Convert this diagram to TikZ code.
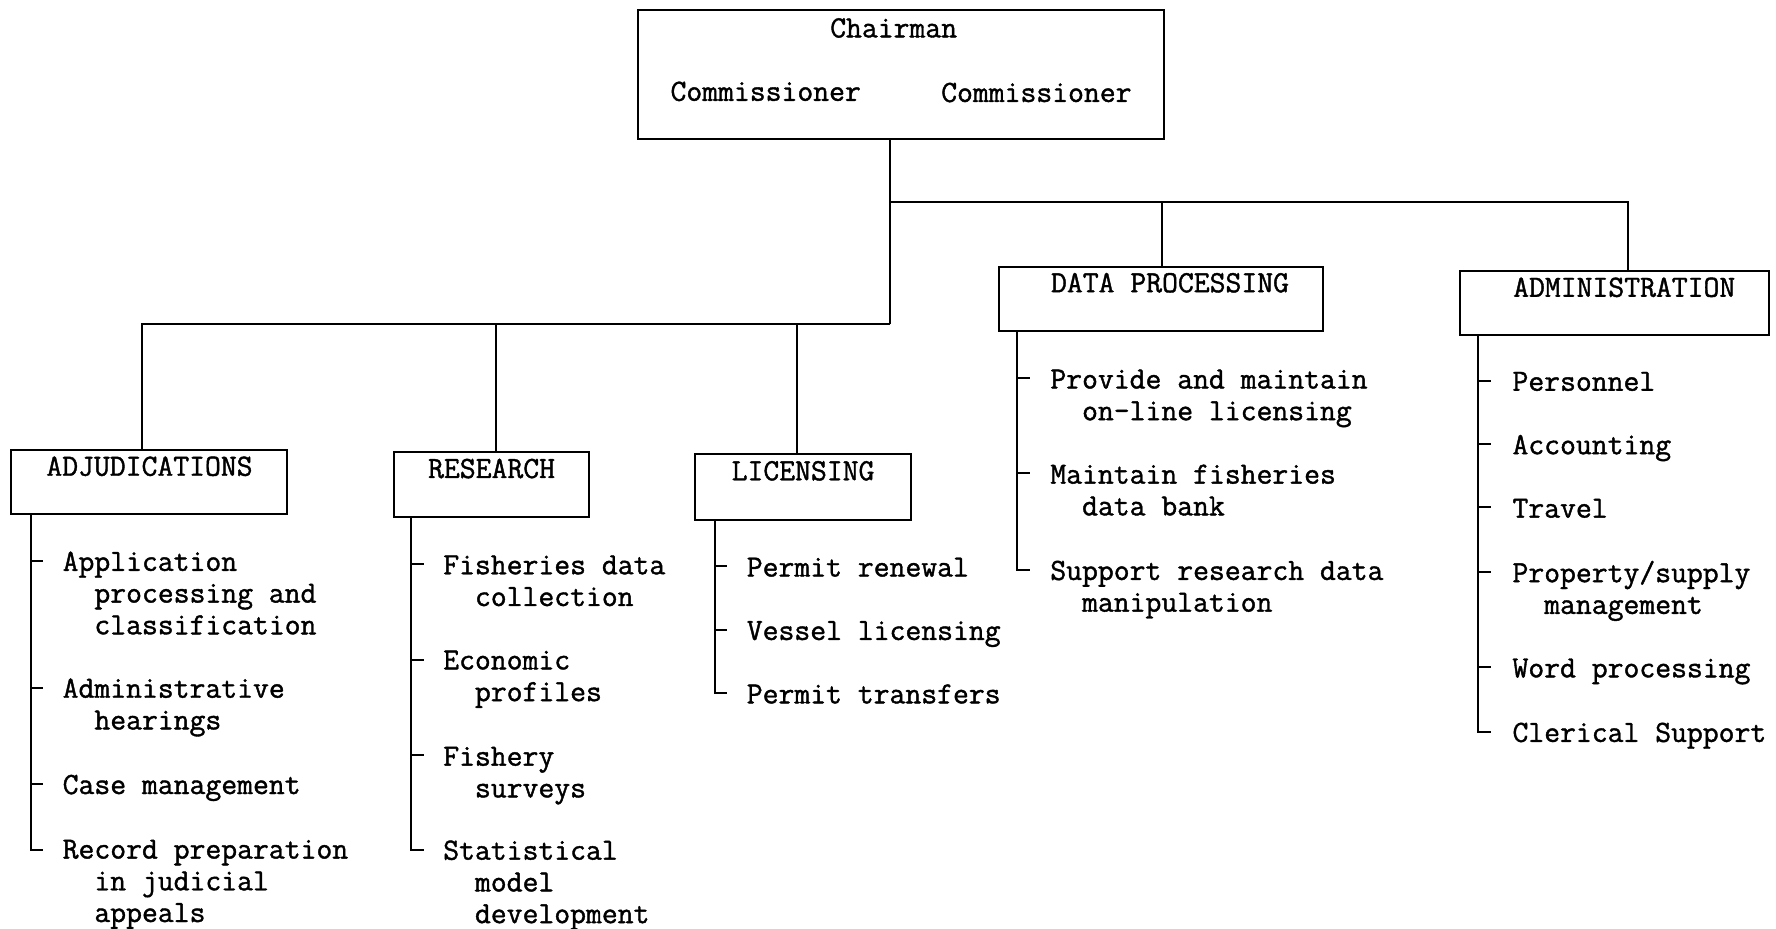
\documentclass[tikz,border=0pt]{standalone}
\usepackage{fontspec}
\usetikzlibrary{fit}
\newfontfamily\tw[FakeBold=1.3]{Latin Modern Mono}
\newcommand\li[1]{\hbox{#1}}
\newcommand\lj[1]{\hbox{\hphantom{xx}#1}}
\begin{document}
\begin{tikzpicture}[x=0.56633pt,y=-0.56633pt,
  every node/.style={font=\tw\fontsize{15.4}{15.86}\selectfont},
  box/.style={draw,line width=1pt,inner sep=0pt},
  txt/.style={anchor=base,inner sep=0pt},
  item/.style={anchor=base west,inner sep=0pt},
  ln/.style={line width=1pt}]
\useasboundingbox (0,0) rectangle (1568,820);
% boxes
\node[box,fit={(563,9) (1028,123)}] (top) {};
\node[box,fit={(10,397) (253,454)}] (adj) {};
\node[box,fit={(348,399) (520,456)}] (res) {};
\node[box,fit={(614,401) (804,459)}] (lic) {};
\node[box,fit={(882,236) (1168,292)}] (dp) {};
\node[box,fit={(1289,239) (1562,296)}] (adm) {};
% box texts
\node[txt] (chair) at (789,33) {Chairman};
\node[txt] (com1) at (676,89) {Commissioner};
\node[txt] (com2) at (915,90) {Commissioner};
\node[txt] (tadj) at (132,420) {ADJUDICATIONS};
\node[txt] (tres) at (434,422) {RESEARCH};
\node[txt] (tlic) at (709,424) {LICENSING};
\node[txt] (tdp) at (1033,258) {DATA PROCESSING};
\node[txt] (tadm) at (1434,262) {ADMINISTRATION};
% tree connectors
\coordinate (j1) at (786,178);
\coordinate (j2) at (786,286);
\coordinate (kdp) at (1026,178);
\coordinate (kadm) at (1437,178);
\coordinate (kadj) at (125,286);
\coordinate (kres) at (438,286);
\coordinate (klic) at (704,286);
\draw[ln] (top.south -| j1) -- (j2);
\draw[ln] (j1) -- (kadm) -- (kadm |- adm.north);
\draw[ln] (kdp) -- (kdp |- dp.north);
\draw[ln] (j2) -- (kadj) -- (kadj |- adj.north);
\draw[ln] (kres) -- (kres |- res.north);
\draw[ln] (klic) -- (klic |- lic.north);
% ADJUDICATIONS items
\coordinate (ba) at (27,0);
\draw[ln] (ba |- adj.south) -- (27,750) -- (38,750);
\foreach \y in {495,607,692} \draw[ln] (27,\y) -- (38,\y);
\node[item] (a1) at (55,504) {\vtop{\li{Application}\lj{processing and}\lj{classification}}};
\node[item] (a2) at (55,616) {\vtop{\li{Administrative}\lj{hearings}}};
\node[item] (a3) at (55,701) {Case management};
\node[item] (a4) at (55,758) {\vtop{\li{Record preparation}\lj{in judicial}\lj{appeals}}};
% RESEARCH items
\coordinate (br) at (363,0);
\draw[ln] (br |- res.south) -- (363,750) -- (374,750);
\foreach \y in {498,583,667} \draw[ln] (363,\y) -- (374,\y);
\node[item] (r1) at (391,507) {\vtop{\li{Fisheries data}\lj{collection}}};
\node[item] (r2) at (391,591) {\vtop{\li{Economic}\lj{profiles}}};
\node[item] (r3) at (391,676) {\vtop{\li{Fishery}\lj{surveys}}};
\node[item] (r4) at (391,759) {\vtop{\li{Statistical}\lj{model}\lj{development}}};
% LICENSING items
\coordinate (bl) at (631,0);
\draw[ln] (bl |- lic.south) -- (631,612) -- (642,612);
\foreach \y in {500,556} \draw[ln] (631,\y) -- (642,\y);
\node[item] (l1) at (659,509) {Permit renewal};
\node[item] (l2) at (659,565) {Vessel licensing};
\node[item] (l3) at (659,621) {Permit transfers};
% DATA PROCESSING items
\coordinate (bd) at (898,0);
\draw[ln] (bd |- dp.south) -- (898,503) -- (909,503);
\foreach \y in {334,418} \draw[ln] (898,\y) -- (909,\y);
\node[item] (d1) at (927,343) {\vtop{\li{Provide and maintain}\lj{on-line licensing}}};
\node[item] (d2) at (927,427) {\vtop{\li{Maintain fisheries}\lj{data bank}}};
\node[item] (d3) at (927,512) {\vtop{\li{Support research data}\lj{manipulation}}};
% ADMINISTRATION items
\coordinate (bm) at (1305,0);
\draw[ln] (bm |- adm.south) -- (1305,646) -- (1316,646);
\foreach \y in {336,392,448,505,589} \draw[ln] (1305,\y) -- (1316,\y);
\node[item] (m1) at (1335,345) {Personnel};
\node[item] (m2) at (1335,401) {Accounting};
\node[item] (m3) at (1335,457) {Travel};
\node[item] (m4) at (1335,514) {\vtop{\li{Property/supply}\lj{management}}};
\node[item] (m5) at (1335,598) {Word processing};
\node[item] (m6) at (1335,655) {Clerical Support};
\end{tikzpicture}
\end{document}
